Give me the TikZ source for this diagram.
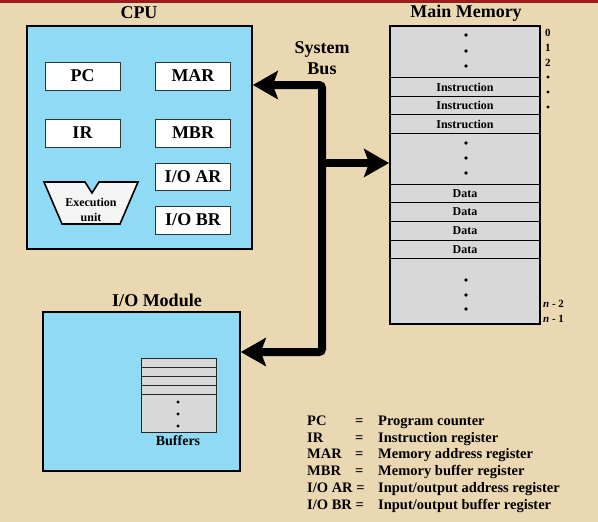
\documentclass[tikz,border=0pt]{standalone}
\usepackage{fontspec}
\setmainfont{Liberation Serif}
\usetikzlibrary{arrows.meta}
\definecolor{parch}{RGB}{233,216,178}
\definecolor{topred}{RGB}{155,28,28}
\definecolor{cpublue}{RGB}{143,219,245}
\definecolor{memgray}{RGB}{216,216,216}
\newcommand\fsz[2]{\fontsize{#1}{#2}\selectfont\bfseries}
\begin{document}
\begin{tikzpicture}[x=1pt,y=-1pt,
  title/.style={font=\fsz{18}{20}, inner sep=0},
  bigbox/.style={draw=black, line width=1.6pt, fill=cpublue, inner sep=0},
  reg/.style={draw=black!80, line width=1pt, fill=white, minimum width=75pt, minimum height=28pt, inner sep=0, font=\fsz{18}{20}},
  memcell/.style={draw=black, line width=1.8pt, fill=memgray, minimum width=150pt, inner sep=0, font=\fsz{12}{14}},
  bufcell/.style={draw=black!85, line width=1pt, fill=memgray, minimum width=75pt, inner sep=0},
  bus/.style={line width=8pt, rounded corners=3pt},
  bustip/.tip={Stealth[length=25pt,width=28pt,inset=5pt]},
  side/.style={font=\fsz{11}{12}, inner sep=0, anchor=west},
  legend/.style={font=\fsz{14.5}{16}, inner sep=0, anchor=base west},
  dot/.style={circle, fill=black, inner sep=0, minimum size=3.6pt}
]
\fill[parch] (0,0) rectangle (598,522);
\useasboundingbox (0,0) rectangle (598,522);
\fill[topred] (0,0) rectangle (598,3);

% ---------- CPU ----------
\node[bigbox, minimum width=225pt, minimum height=223pt] (cpu) at (139.5,137.5) {};
\node[title] (cputitle) at (139,13) {CPU};
\node[reg] (pc) at (82.5,76) {PC};
\node[reg] (mar) at (193,76) {MAR};
\node[reg] (ir) at (82.5,133) {IR};
\node[reg] (mbr) at (193,133) {MBR};
\node[reg, minimum height=27pt] (ioar) at (193,176.5) {I/O AR};
\node[reg] (iobr) at (193,220) {I/O BR};
\draw[draw=black, line width=1.6pt, fill=white!96!black, line join=miter]
  (44,182) -- (85,182) -- (92,193) -- (99,182) -- (138,182) -- (120,224) -- (62,224) -- cycle;
\node[font=\fsz{12}{15}, align=center, inner sep=0] (eu) at (91,209.5) {Execution\\unit};

% ---------- Main memory ----------
\node[title] (memtitle) at (466,13) {Main Memory};
\node[memcell, minimum height=51.5pt] (m0) at (465,51.75) {};
\node[memcell, minimum height=19pt] (i1) at (465,87) {Instruction};
\node[memcell, minimum height=18pt] (i2) at (465,105.5) {Instruction};
\node[memcell, minimum height=19pt] (i3) at (465,124) {Instruction};
\node[memcell, minimum height=51pt] (mmid) at (465,159) {};
\node[memcell, minimum height=18pt] (d1) at (465,193.5) {Data};
\node[memcell, minimum height=19pt] (d2) at (465,212) {Data};
\node[memcell, minimum height=19pt] (d3) at (465,231) {Data};
\node[memcell, minimum height=18pt] (d4) at (465,249.5) {Data};
\node[memcell, minimum height=65.5pt] (mbot) at (465,291.25) {};
\foreach \y in {35,51,66,143,158,173,280,295,309}
  \node[dot] at (466,\y) {};
\node[side] (a0) at (545,33) {0};
\node[side] (a1) at (545,48) {1};
\node[side] (a2) at (545,63) {2};
\foreach \y in {77,92,107}
  \node[dot, minimum size=3.2pt] at (548,\y) {};
\node[side] (an2) at (543,304) {{\itshape n} - 2};
\node[side] (an1) at (543,319) {{\itshape n} - 1};

% ---------- I/O module ----------
\node[title] (iotitle) at (157,300) {I/O Module};
\node[bigbox, minimum width=197pt, minimum height=159pt] (io) at (141.5,391.5) {};
\node[bufcell, minimum height=9.5pt] (b1) at (178.5,362.75) {};
\node[bufcell, minimum height=9pt] (b2) at (178.5,372) {};
\node[bufcell, minimum height=9pt] (b3) at (178.5,381) {};
\node[bufcell, minimum height=9pt] (b4) at (178.5,390) {};
\node[bufcell, minimum height=37.5pt] (b5) at (178.5,413.25) {};
\foreach \y in {402,414,426}
  \node[dot, minimum size=3.2pt] at (178,\y) {};
\node[font=\fsz{14}{16}, inner sep=0] (buf) at (178,441) {Buffers};

% ---------- System bus ----------
\node[title, align=center, font=\fsz{18}{21}] (bustitle) at (322,58) {System\\Bus};
\coordinate (busTop) at (322,85);
\coordinate (busMid) at (322,163);
\coordinate (busBot) at (322,352);
\draw[bus, bustip-bustip] (cpu.east |- busTop) -- (busTop) -- (busBot) -- (io.east |- busBot);
\draw[line width=8pt, -bustip] (busMid) -- (mmid.west |- busMid);

% ---------- Legend ----------
\node[legend] (l1a) at (307,425.3) {PC};
\node[legend] (l1b) at (355,425.3) {=};
\node[legend] (l1c) at (378,425.3) {Program counter};
\node[legend] (l2a) at (307,442.1) {IR};
\node[legend] (l2b) at (355,442.1) {=};
\node[legend] (l2c) at (378,442.1) {Instruction register};
\node[legend] (l3a) at (307,458.9) {MAR};
\node[legend] (l3b) at (355,458.9) {=};
\node[legend] (l3c) at (378,458.9) {Memory address register};
\node[legend] (l4a) at (307,475.7) {MBR};
\node[legend] (l4b) at (355,475.7) {=};
\node[legend] (l4c) at (378,475.7) {Memory buffer register};
\node[legend] (l5a) at (307,492.5) {I/O AR =};
\node[legend] (l5c) at (378,492.5) {Input/output address register};
\node[legend] (l6a) at (307,509.3) {I/O BR =};
\node[legend] (l6c) at (378,509.3) {Input/output buffer register};
\end{tikzpicture}
\end{document}
